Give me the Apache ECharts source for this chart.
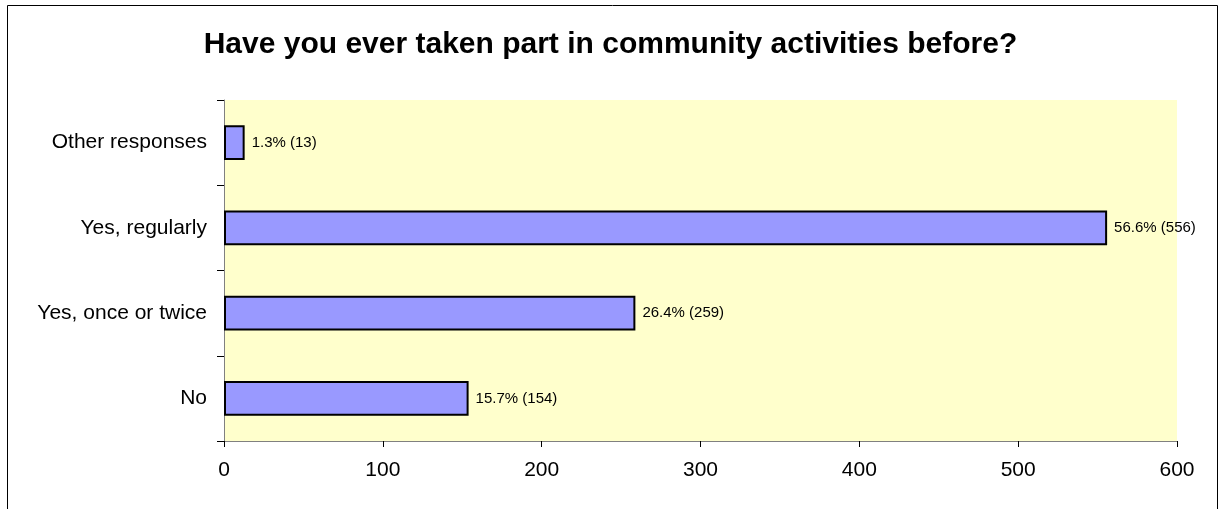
<!DOCTYPE html>
<html>
<head>
<meta charset="utf-8">
<script src="https://cdn.jsdelivr.net/npm/echarts@6/dist/echarts.min.js"></script>
<style>
html, body { margin: 0; padding: 0; background: #fff; }
#chart { width: 1221px; height: 509px; }
</style>
</head>
<body>
<div id="chart"></div>
<script>
var categories = ['No', 'Yes, once or twice', 'Yes, regularly', 'Other responses'];
var counts = [154, 259, 556, 13];
var percents = ['15.7%', '26.4%', '56.6%', '1.3%'];

var myChart = echarts.init(document.getElementById('chart'));

var option = {
    animation: false,
    textStyle: { fontFamily: 'Liberation Sans, Arial, sans-serif' },
    title: {
        text: 'Have you ever taken part in community activities before?',
        left: 'center',
        top: 25,
        textStyle: { fontSize: 30, fontWeight: 'bold', color: '#000' }
    },
    graphic: [{
        type: 'rect',
        shape: { x: 7.5, y: 5.5, width: 1210, height: 600 },
        style: { fill: 'none', stroke: '#000', lineWidth: 1 },
        silent: true
    }],
    grid: {
        left: 224, right: 44, top: 100, bottom: 68,
        show: true,
        backgroundColor: '#FFFFCC',
        borderWidth: 0
    },
    xAxis: {
        type: 'value',
        min: 0, max: 600, interval: 100,
        axisLine: { show: true, lineStyle: { color: '#808080' } },
        axisTick: { show: true, length: 6, lineStyle: { color: '#000' } },
        axisLabel: { fontSize: 21, color: '#000', margin: 19 },
        splitLine: { show: false }
    },
    yAxis: {
        type: 'category',
        data: categories,
        axisLine: { show: true, lineStyle: { color: '#808080' } },
        axisTick: { show: true, length: 7, lineStyle: { color: '#000' } },
        axisLabel: { fontSize: 21, color: '#000', margin: 17 }
    },
    series: [{
        type: 'bar',
        data: counts,
        barWidth: '41%',
        itemStyle: { color: '#9999FF', borderColor: '#000', borderWidth: 2 },
        label: {
            show: true,
            position: 'right',
            distance: 7,
            fontSize: 15,
            color: '#000',
            formatter: function (p) { return percents[p.dataIndex] + ' (' + p.value + ')'; }
        }
    }]
};

myChart.setOption(option);
window.addEventListener('resize', function () {
    myChart.resize();
});
</script>
</body>
</html>
